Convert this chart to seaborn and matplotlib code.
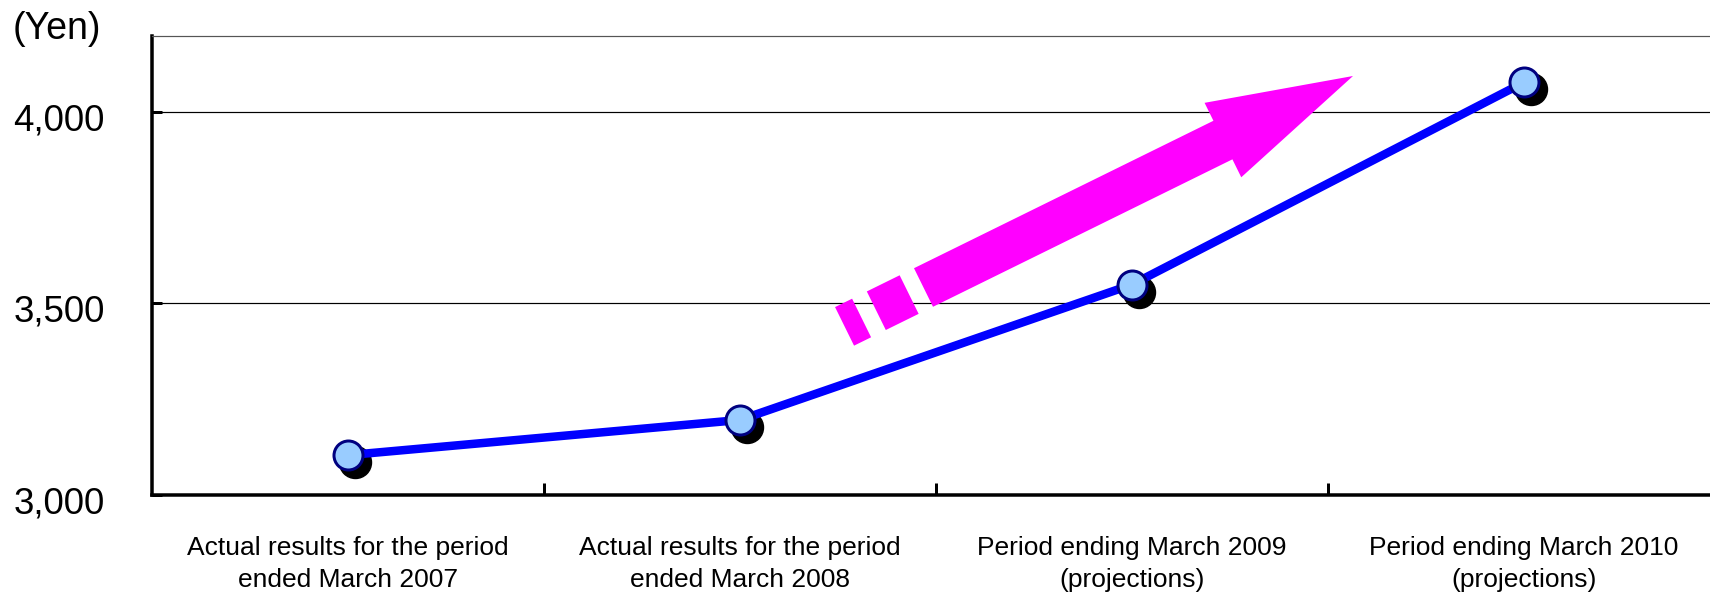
import numpy as np
import pandas as pd
import matplotlib
matplotlib.use("Agg")
import matplotlib.pyplot as plt
from matplotlib.patches import Polygon
from matplotlib.transforms import offset_copy, ScaledTranslation
import seaborn as sns

# ---- data -------------------------------------------------------------
periods = [
    "Actual results for the period\nended March 2007",
    "Actual results for the period\nended March 2008",
    "Period ending March 2009\n(projections)",
    "Period ending March 2010\n(projections)",
]
values = [3103, 3195, 3549, 4078]
y_ticks = [3000, 3500, 4000]
y_tick_labels = ["3,000", "3,500", "4,000"]
unit_label = "(Yen)"

# ---- style ------------------------------------------------------------
sns.set_theme(style="white", rc={
    "text.color": "black",
    "xtick.color": "black",
    "ytick.color": "black",
    "axes.edgecolor": "black",
})
plt.rcParams["font.family"] = ["Liberation Sans", "DejaVu Sans"]

W, H, DPI = 1710, 593, 100
PX = 72 / DPI  # points per pixel

fig = plt.figure(figsize=(W / DPI, H / DPI), dpi=DPI)
fig.patch.set_facecolor("white")
ax = fig.add_axes([152 / W, 98.5 / H, 1568 / W, 458.8 / H])

df = pd.DataFrame({"pos": np.arange(len(periods)), "value": values})

# drop shadow behind each marker
shadow_tr = offset_copy(ax.transData, fig=fig, x=7, y=-7, units="dots")
ax.plot(df["pos"], df["value"], linestyle="none", marker="o",
        markersize=32 * PX, color="black", transform=shadow_tr, zorder=2)

# main line with markers
sns.lineplot(data=df, x="pos", y="value", ax=ax, color="#0000FF",
             linewidth=8.5 * PX, marker="o", markersize=29 * PX,
             markerfacecolor="#99CCFF", markeredgecolor="#000080",
             markeredgewidth=3 * PX, zorder=3)

ax.set_xlim(-0.5, len(periods) - 0.5)
ax.set_ylim(3000, 4200)
ax.set_xlabel("")
ax.set_ylabel("")

# x axis: labels centred on categories, inward ticks between them
ax.set_xticks(np.arange(len(periods)))
ax.set_xticklabels(periods, fontsize=19, linespacing=1.4)
ax.set_xticks(np.arange(len(periods) - 1) + 0.5, minor=True)
ax.tick_params(axis="x", which="major", bottom=True, length=0, pad=30)
ax.tick_params(axis="x", which="minor", bottom=True, direction="in",
               length=12 * PX, width=3 * PX, color="black")

# y axis
ax.set_yticks(y_ticks)
ax.set_yticklabels(y_tick_labels, fontsize=26.5)
ax.tick_params(axis="y", which="major", left=True, direction="in",
               length=10 * PX, width=3 * PX, pad=34, color="black")
shift_down = ScaledTranslation(0, -5 / DPI, fig.dpi_scale_trans)
for lbl in ax.get_yticklabels():
    lbl.set_transform(lbl.get_transform() + shift_down)

ax.yaxis.grid(True, color="black", linewidth=1.2 * PX)
ax.xaxis.grid(False)
ax.set_axisbelow(True)

for side in ("left", "bottom"):
    ax.spines[side].set_linewidth(3.5 * PX)
    ax.spines[side].set_color("black")
ax.spines["top"].set_linewidth(1.2 * PX)
ax.spines["top"].set_color("#555555")
ax.spines["right"].set_visible(False)

fig.text(13 / W, 1 - 29 / H, unit_label, fontsize=27, ha="left", va="center")

# ---- striped upward trend arrow (pixel geometry, top-left origin) ------
tail = np.array([923.5, 287.5])
tip = np.array([1353.0, 76.0])
shaft_hw, head_hw, head_len = 21.5, 41.5, 145.0
stripes = [(-88.0, -69.0), (-52.6, -16.0)]

u = (tip - tail) / np.linalg.norm(tip - tail)
n = np.array([-u[1], u[0]])
L = np.linalg.norm(tip - tail)


def to_fig(pts):
    pts = np.asarray(pts)
    return np.column_stack([pts[:, 0] / W, 1 - pts[:, 1] / H])


def pt(a, b):
    return tail + a * u + b * n


body = [pt(0, -shaft_hw), pt(L - head_len, -shaft_hw), pt(L - head_len, -head_hw),
        pt(L, 0), pt(L - head_len, head_hw), pt(L - head_len, shaft_hw), pt(0, shaft_hw)]
fig.add_artist(Polygon(to_fig(body), closed=True, facecolor="#FF00FF",
                       edgecolor="none", transform=fig.transFigure, zorder=2.5))
for a0, a1 in stripes:
    rect = [pt(a0, -shaft_hw), pt(a1, -shaft_hw), pt(a1, shaft_hw), pt(a0, shaft_hw)]
    fig.add_artist(Polygon(to_fig(rect), closed=True, facecolor="#FF00FF",
                           edgecolor="none", transform=fig.transFigure, zorder=2.5))

fig.savefig("out.png", dpi=DPI, facecolor="white")
